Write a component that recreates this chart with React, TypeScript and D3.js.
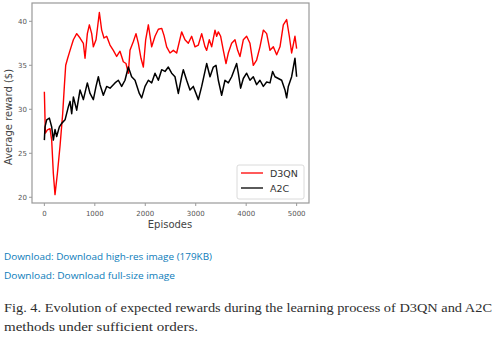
import React from "react";
import * as d3 from "d3";

const d3qnEpisodes = [0,20,60,112,145,178,211,258,310,363,396,423,462,509,575,641,707,773,806,852,892,938,971,1024,1090,1136,1182,1235,1301,1367,1433,1499,1565,1618,1664,1697,1764,1816,1863,1915,1962,2008,2061,2127,2193,2259,2325,2371,2424,2490,2556,2622,2721,2787,2853,2919,2985,3052,3118,3184,3217,3269,3316,3382,3415,3448,3494,3547,3600,3646,3712,3778,3831,3877,3943,4009,4075,4141,4207,4273,4340,4406,4472,4538,4604,4670,4736,4802,4855,4901,4967,5000];
const d3qnValues = [32.0,27.3,27.65,27.8,26.5,22.7,20.3,22.7,25.8,29.5,32.6,35.0,35.8,36.7,37.9,38.6,38.1,37.5,35.8,38.6,39.6,38.6,37.1,37.9,41.0,39.0,38.1,38.3,37.3,36.7,36.0,36.6,35.4,35.2,34.1,36.7,37.7,38.6,37.5,35.8,34.8,37.9,39.6,37.1,38.3,39.1,39.2,38.4,37.1,36.4,36.7,36.4,38.8,37.9,37.5,38.3,37.1,37.3,38.6,37.1,36.7,37.9,37.1,39.0,38.3,38.8,38.3,36.7,35.2,36.4,37.5,37.9,36.7,36.0,37.9,38.3,37.5,35.0,35.6,37.1,39.0,38.6,36.7,37.1,36.2,37.1,39.6,40.2,38.3,36.4,38.3,36.9];

const a2cEpisodes = [0,13,46,99,145,178,211,244,297,343,410,476,509,542,575,641,707,773,852,905,971,1024,1070,1103,1169,1235,1301,1400,1466,1532,1598,1664,1730,1797,1882,1929,1995,2061,2127,2193,2259,2325,2391,2457,2523,2589,2655,2721,2754,2820,2886,2952,3052,3118,3217,3283,3349,3402,3448,3514,3580,3646,3712,3811,3844,3890,3943,4009,4075,4141,4207,4273,4340,4406,4472,4524,4571,4637,4703,4769,4802,4835,4901,4967,5000];
const a2cValues = [26.5,28.0,28.8,29.0,28.0,26.5,27.7,26.9,28.0,28.4,28.8,30.3,30.9,29.5,31.4,29.9,32.2,31.1,33.0,31.8,31.1,32.6,33.7,32.8,31.6,32.6,32.4,33.0,33.3,32.6,33.3,34.8,33.7,33.3,31.8,31.3,32.6,33.3,33.0,34.1,33.3,34.5,34.3,34.8,34.1,33.7,31.8,33.7,34.5,33.3,32.2,32.6,31.1,32.6,35.2,33.7,34.8,35.0,33.3,31.6,33.3,33.0,33.7,35.2,34.1,32.4,33.5,34.1,33.3,33.7,32.8,33.3,32.6,33.1,33.0,34.3,33.7,33.5,33.3,32.2,31.3,32.6,33.7,35.8,33.7];

const seriesNames = ["D3QN", "A2C"];
const seriesColors = ["#ff0000", "#000000"];
const xTicks = [0, 1000, 2000, 3000, 4000, 5000];
const yTicks = [20, 25, 30, 35, 40];

export default function App() {
  const left = 32, right = 309, top = 3, bottom = 203;
  const x = d3.scaleLinear().domain([-245, 5245]).range([left, right]);
  const y = d3.scaleLinear().domain([19.35, 42.08]).range([bottom, top]);
  const line = d3.line<[number, number]>().x(d => x(d[0])).y(d => y(d[1]));
  const red = d3qnEpisodes.map((e, i) => [e, d3qnValues[i]] as [number, number]);
  const black = a2cEpisodes.map((e, i) => [e, a2cValues[i]] as [number, number]);
  const tickFont = "DejaVu Sans, sans-serif";
  const axisColor = "#999";
  return (
    <svg width={495} height={340} style={{ position: "absolute", left: 0, top: 0, background: "#fff" }}>
      <rect x={0} y={0} width={495} height={340} fill="#fff" />
      <path d={line(red) || ""} fill="none" stroke={seriesColors[0]} strokeWidth={1.4} strokeLinejoin="round" />
      <path d={line(black) || ""} fill="none" stroke={seriesColors[1]} strokeWidth={1.5} strokeLinejoin="round" />
      <rect x={left} y={top} width={right - left} height={bottom - top} fill="none" stroke={axisColor} strokeWidth={1.2} />
      {xTicks.map(t => (
        <g key={"x" + t}>
          <line x1={x(t)} x2={x(t)} y1={bottom} y2={bottom + 3} stroke={axisColor} />
          <text x={x(t)} y={216} textAnchor="middle" fontSize={7} fontFamily={tickFont} fill="#555">{t}</text>
        </g>
      ))}
      {yTicks.map(t => (
        <g key={"y" + t}>
          <line x1={left - 3} x2={left} y1={y(t)} y2={y(t)} stroke={axisColor} />
          <text x={27} y={y(t) + 2.5} textAnchor="end" fontSize={7} fontFamily={tickFont} fill="#555">{t}</text>
        </g>
      ))}
      <text x={170} y={228} textAnchor="middle" fontSize={10} fontFamily={tickFont} fill="#444">Episodes</text>
      <text transform="translate(12,117) rotate(-90)" textAnchor="middle" fontSize={10} fontFamily={tickFont} fill="#444">Average reward ($)</text>
      <rect x={237} y={165} width={67} height={34} rx={2} fill="#fff" stroke="#d0d0d0" strokeWidth={0.8} />
      {seriesNames.map((n, i) => (
        <g key={n}>
          <line x1={241} x2={263} y1={173 + i * 15} y2={173 + i * 15} stroke={seriesColors[i]} strokeWidth={1.3} />
          <text x={270} y={176.5 + i * 15} fontSize={9.5} fontFamily={tickFont} fill="#333">{n}</text>
        </g>
      ))}
      <text x={4} y={260} fontSize={8.5} fontFamily="Open Sans, sans-serif" fill="#0c7cba" textLength={208} lengthAdjust="spacingAndGlyphs">Download: Download high-res image (179KB)</text>
      <text x={4} y={279} fontSize={8.5} fontFamily="Open Sans, sans-serif" fill="#0c7cba" textLength={171} lengthAdjust="spacingAndGlyphs">Download: Download full-size image</text>
      <text x={4} y={312} fontSize={12} fontFamily="Liberation Serif, serif" fill="#2e2e2e" textLength={488} lengthAdjust="spacingAndGlyphs">Fig. 4. Evolution of expected rewards during the learning process of D3QN and A2C</text>
      <text x={4} y={331} fontSize={12} fontFamily="Liberation Serif, serif" fill="#2e2e2e" textLength={194} lengthAdjust="spacingAndGlyphs">methods under sufficient orders.</text>
    </svg>
  );
}
